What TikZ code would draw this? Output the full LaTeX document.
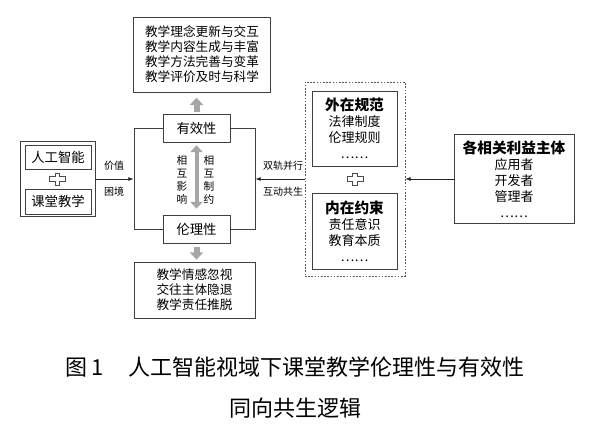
\documentclass[tikz,border=0pt]{standalone}
\usepackage{fontspec}
\setmainfont{Noto Sans CJK SC}
\usetikzlibrary{arrows.meta}

\tikzset{
  box/.style={draw=black!75, line width=0.6pt, fill=white, inner sep=0pt, align=center},
  txt/.style={font=\fontsize{9.5}{11.25}\selectfont, align=center},
  list/.style={font=\fontsize{9.75}{12}\selectfont, align=center},
  note/.style={font=\fontsize{7.5}{9}\selectfont},
  vnote/.style={font=\fontsize{8}{9.75}\selectfont, align=center},
  dashbox/.style={draw=black!65, line width=0.5pt, dash pattern=on 1.2pt off 1.2pt},
  thinarrow/.style={draw=black!85, line width=0.5pt, -{Latex[length=4pt,width=3pt]}},
  fat/.style={draw=black!35, line width=4.5pt, -{Triangle[length=5.5pt,width=10pt]}},
  plussign/.pic={
    \draw[black!70, line width=0.5pt] (-2.2,-6) -- (2.2,-6) -- (2.2,-2.2) -- (8,-2.2) -- (8,2.2)
      -- (2.2,2.2) -- (2.2,6) -- (-2.2,6) -- (-2.2,2.2) -- (-8,2.2) -- (-8,-2.2) -- (-2.2,-2.2) -- cycle;
  }
}
\newcommand{\boxhead}[1]{{\bfseries\fontsize{11}{12}\selectfont #1}}

\begin{document}
\begin{tikzpicture}[x=0.75pt, y=-0.75pt]
    \useasboundingbox (0,0) rectangle (600,435);

    % middle column
    \node[box, txt, minimum width=102.75pt, minimum height=56.25pt] (top) at (202,54.5)
        {教学理念更新与交互\\教学内容生成与丰富\\教学方法完善与变革\\教学评价及时与科学};
    \node[box, minimum width=90.75pt, minimum height=75.75pt] (frame) at (194.5,179) {};
    \node[box, font=\fontsize{10}{12}\selectfont, minimum width=50.25pt, minimum height=21pt] (eff) at (196.5,128) {有效性};
    \node[box, font=\fontsize{10}{12}\selectfont, minimum width=50.25pt, minimum height=21pt] (eth) at (196.5,229) {伦理性};
    \node[box, txt, minimum width=90.75pt, minimum height=42pt] (low) at (194.5,290)
        {教学情感忽视\\交往主体隐退\\教学责任推脱};
    \node[vnote] (infl) at (182,180) {相\\互\\影\\响};
    \node[vnote] (cons) at (209,180) {相\\互\\制\\约};

    \draw[fat] (eff.north) -- (eff.north |- top.south) [shorten <=1.5pt, shorten >=4pt];
    \draw[fat] (eth.south) -- (eth.south |- low.north) [shorten <=2.5pt, shorten >=1.5pt];
    \draw[draw=black!35, line width=3pt, {Triangle[length=5pt,width=9pt]}-{Triangle[length=5pt,width=9pt]}]
        (eff.south) -- (eth.north) [shorten <=2.2pt, shorten >=4.5pt];

    % left
    \node[box, minimum width=56.25pt, minimum height=56.25pt] (aiwrap) at (57.5,179) {};
    \node[box, font=\fontsize{10}{12}\selectfont, minimum width=49.5pt, minimum height=18pt] (ai) at (58,157) {人工智能};
    \node[box, font=\fontsize{10}{12}\selectfont, minimum width=49.5pt, minimum height=18.75pt] (cls) at (58,201.5) {课堂教学};
    \pic at (57.5,179) {plussign};
    \node[note] (value) at (114,166) {价值};
    \node[note] (plight) at (114,192) {困境};
    \draw[thinarrow] (aiwrap.east) -- (frame.west);

    % right
    \node[dashbox, minimum width=75pt, minimum height=145.5pt] (norms) at (355,179) {};
    \node[box, list, minimum width=63.75pt, minimum height=56.25pt] (ext) at (354.5,128.5)
        {\boxhead{外在规范}\\法律制度\\伦理规则\\……};
    \node[box, list, minimum width=63.75pt, minimum height=57pt] (int) at (354.5,231)
        {\boxhead{内在约束}\\责任意识\\教育本质\\……};
    \pic at (355,179) {plussign};
    \node[note] (dual) at (283,166) {双轨并行};
    \node[note] (cosym) at (283,192) {互动共生};
    \draw[thinarrow] (norms.west) -- (frame.east);

    \node[box, list, minimum width=90pt, minimum height=66.75pt] (stake) at (514,179)
        {\boxhead{各相关利益主体}\\应用者\\开发者\\管理者\\……};
    \draw[thinarrow] (stake.west) -- (norms.east);

    % caption
    \node[font=\fontsize{16.5}{20}\selectfont] (cap1) at (295,367) {图\,1\hspace{1.1em}人工智能视域下课堂教学伦理性与有效性};
    \node[font=\fontsize{16.5}{20}\selectfont] (cap2) at (295,408) {同向共生逻辑};
\end{tikzpicture}
\end{document}
